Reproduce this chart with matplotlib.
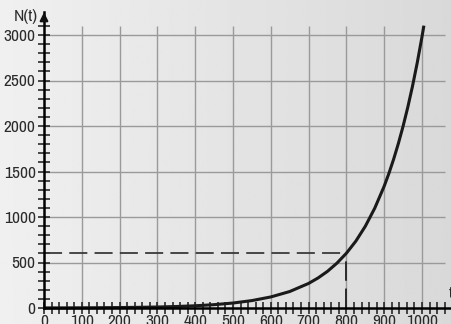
import matplotlib
matplotlib.use('Agg')
import matplotlib.pyplot as plt
import numpy as np
from matplotlib import font_manager

# values
t_vals = [0, 50, 100, 150, 200, 250, 300, 350, 400, 450, 500, 550, 600, 650, 700,
          725, 750, 775, 800, 825, 850, 875, 900, 912.5, 925, 937.5, 950, 962.5,
          975, 987.5, 1000, 1005]
n_vals = [1, 1.5, 2.2, 3.3, 5, 7.4, 11, 16.4, 24.5, 36.6, 54.6, 81.5, 121.5, 181, 270,
          330, 403, 493, 602, 735, 898, 1097, 1339, 1480, 1636, 1808, 1998, 2208,
          2440, 2697, 2981, 3103]

x_major = [0, 100, 200, 300, 400, 500, 600, 700, 800, 900, 1000]
x_minor = list(range(0, 1080, 20))
y_major = [0, 500, 1000, 1500, 2000, 2500, 3000]
y_minor = list(range(0, 3200, 100))

mark_t, mark_n = 800, 600

# narrow font if one is installed, else Liberation Sans
names = sorted({f.name for f in font_manager.fontManager.ttflist})
narrow = [n for n in names if n == 'Liberation Sans Narrow'] or \
         [n for n in names if 'Narrow' in n or 'Condensed' in n]
plt.rcParams['font.family'] = narrow[:1] + ['Liberation Sans', 'DejaVu Sans']
fs = 12.5 if narrow else 9

fig = plt.figure(figsize=(4.52, 3.24), dpi=100)
ax = fig.add_axes([0, 0, 1, 1])
xmin, xmax = -44 / 0.378, 408 / 0.378
ymin, ymax = -16 / 0.091, 308 / 0.091
ax.set_xlim(xmin, xmax)
ax.set_ylim(ymin, ymax)

# background gradient (light left -> darker right)
grad = np.linspace(0.94, 0.85, 256).reshape(1, -1)
ax.imshow(grad, extent=[xmin, xmax, ymin, ymax], aspect='auto', cmap='gray',
          vmin=0, vmax=1, zorder=0)

# grid
ax.vlines(x_major[1:], 0, 3100, color='#9a9a9a', lw=1.0, zorder=1)
ax.hlines(y_major[1:], 0, 1060, color='#9a9a9a', lw=1.0, zorder=1)

# dashed guide lines
ax.plot([0, mark_t], [mark_n, mark_n], ls=(0, (10, 4)), color='#3a3a3a', lw=1.3, zorder=2)
ax.plot([mark_t, mark_t], [0, mark_n], ls=(0, (10, 4)), color='#2a2a2a', lw=1.4, zorder=2)

# curve
ax.plot(t_vals, n_vals, color='#1a1a1a', lw=2.2, solid_capstyle='butt', zorder=3)

# axes through origin
for s in ['top', 'right']:
    ax.spines[s].set_visible(False)
ax.spines['left'].set_position(('data', 0))
ax.spines['bottom'].set_position(('data', 0))
ax.spines['left'].set_bounds(0, 3250)
ax.spines['bottom'].set_bounds(0, xmax)
for s in ['left', 'bottom']:
    ax.spines[s].set_linewidth(1.8)
    ax.spines[s].set_zorder(4)

ax.set_xticks(x_major)
ax.set_xticks(x_minor, minor=True)
ax.set_yticks(y_major)
ax.set_yticks(y_minor, minor=True)
ax.tick_params(which='both', direction='inout', length=8, width=1.1, color='#1a1a1a')
ax.tick_params(axis='x', which='major', pad=0, labelsize=fs, labelcolor='#2a2a2a')
ax.tick_params(axis='y', which='major', pad=2, labelsize=fs, labelcolor='#2a2a2a')

# arrow on y axis
ax.annotate('', xy=(0, 3280), xytext=(0, 3150),
            arrowprops=dict(arrowstyle='-|>', color='#111111', lw=1.5,
                            mutation_scale=12), zorder=5)

ax.text(-15, 3200, 'N(t)', ha='right', va='center', fontsize=fs, color='#2a2a2a')
ax.text(1072, 160, 't', ha='left', va='center', fontsize=fs, color='#2a2a2a')

fig.savefig('out.png', dpi=100)
